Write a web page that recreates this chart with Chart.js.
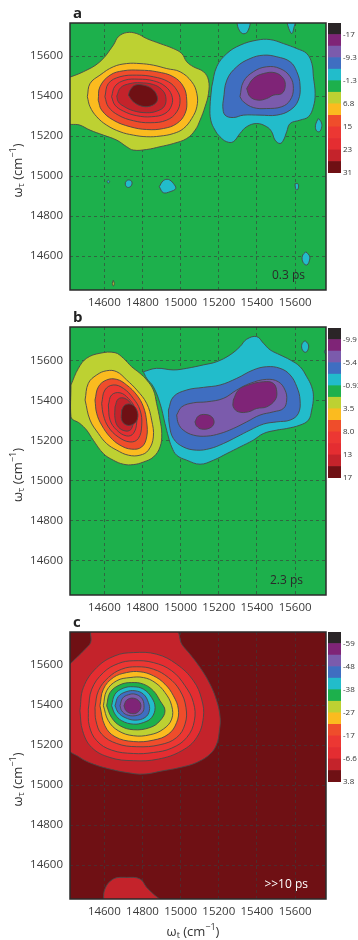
<!DOCTYPE html>
<html><head><meta charset="utf-8">
<script src="https://cdn.jsdelivr.net/npm/chart.js@4.4.1/dist/chart.umd.min.js"></script>
<style>
html,body{margin:0;padding:0;background:#fff;width:358px;height:940px;overflow:hidden;position:relative;}
canvas{position:absolute;left:0;}
</style></head><body>
<canvas id="pa" width="358" height="310" style="top:0px"></canvas>
<canvas id="ca" width="38" height="200" style="left:320px;top:0px"></canvas>
<canvas id="pb" width="358" height="305" style="top:310px"></canvas>
<canvas id="cb" width="38" height="200" style="left:320px;top:310px"></canvas>
<canvas id="pc" width="358" height="325" style="top:615px"></canvas>
<canvas id="cc" width="38" height="200" style="left:320px;top:615px"></canvas>
<script>
// ---------- axes ----------
const xRange = [14420, 15762];
const yRange = [14430, 15766];
const xTicks = [14600, 14800, 15000, 15200, 15400, 15600];
const yTicks = [14600, 14800, 15000, 15200, 15400, 15600];

// ---------- colour bands (index 0 = bottom of colour bar) ----------
const bandColors = ['#6f1014','#c4232b','#e42d31','#ec3733','#ef4d2b','#fbbb1f','#bdd132','#1db04c','#22bccb','#3f6ec1','#7b5bac','#7f2477','#2a2527'];
const aBarLabels = ['31','23','15','6.8','-1.3','-9.3','-17'];
const bBarLabels = ['17','13','8.0','3.5','-0.93','-5.4','-9.9'];
const cBarLabels = ['3.8','-6.6','-17','-27','-38','-48','-59'];

// ---------- panel a (0.3 ps) contours [omega_t, omega_tau] ----------
const aLime = [[14400,15488],[14490,15522],[14577,15572],[14647,15655],[14673,15697],[14717,15718],[14770,15713],[14822,15688],[14892,15663],[14962,15638],[15006,15613],[15032,15572],[15067,15547],[15120,15522],[15146,15480],[15146,15413],[15128,15347],[15102,15280],[15076,15230],[15032,15188],[14962,15163],[14892,15147],[14822,15133],[14752,15130],[14717,15147],[14665,15180],[14595,15205],[14525,15230],[14472,15255],[14400,15272]];
const aOrange = [[14511,15397],[14525,15463],[14577,15505],[14647,15547],[14717,15563],[14787,15563],[14857,15555],[14927,15538],[14997,15522],[15058,15472],[15085,15413],[15085,15347],[15058,15288],[15015,15238],[14962,15213],[14892,15200],[14822,15197],[14752,15205],[14682,15222],[14612,15255],[14560,15297],[14525,15347]];
const aRedOr = [[14568,15380],[14577,15447],[14630,15505],[14700,15527],[14787,15530],[14875,15522],[14962,15497],[15015,15447],[15032,15380],[15023,15313],[14980,15263],[14910,15238],[14822,15233],[14735,15247],[14647,15280],[14586,15330]];
const aRed15 = [[14603,15397],[14621,15463],[14682,15497],[14770,15505],[14857,15497],[14936,15472],[14980,15430],[14997,15380],[14980,15322],[14927,15280],[14840,15267],[14752,15277],[14673,15305],[14621,15347]];
const aRed19 = [[14638,15397],[14656,15450],[14708,15480],[14778,15485],[14857,15477],[14918,15450],[14953,15405],[14953,15355],[14918,15313],[14848,15297],[14770,15302],[14700,15325],[14656,15355]];
const aCrim23 = [[14665,15400],[14686,15443],[14735,15463],[14787,15467],[14857,15458],[14901,15433],[14922,15397],[14915,15350],[14875,15325],[14822,15317],[14752,15327],[14700,15350],[14673,15372]];
const aDark27 = [[14726,15405],[14735,15430],[14761,15455],[14805,15455],[14848,15438],[14875,15405],[14875,15372],[14840,15350],[14796,15350],[14752,15372]];
const aCyan = [[15163,15447],[15189,15547],[15242,15613],[15312,15655],[15399,15680],[15469,15683],[15539,15663],[15609,15638],[15661,15613],[15688,15563],[15696,15497],[15705,15413],[15696,15347],[15670,15297],[15626,15280],[15574,15263],[15556,15222],[15539,15180],[15521,15163],[15495,15180],[15477,15222],[15451,15247],[15399,15263],[15346,15247],[15311,15213],[15276,15172],[15241,15172],[15206,15197],[15180,15230],[15158,15280],[15154,15347]];
const aBlue = [[15224,15380],[15242,15480],[15294,15547],[15364,15588],[15434,15605],[15504,15597],[15574,15572],[15609,15522],[15626,15455],[15617,15380],[15574,15330],[15504,15305],[15416,15305],[15329,15305],[15276,15293],[15233,15305],[15221,15347]];
const aViolet = [[15311,15397],[15329,15472],[15381,15522],[15451,15547],[15521,15538],[15574,15497],[15591,15438],[15574,15380],[15530,15347],[15451,15338],[15381,15343],[15329,15372]];
const aPurple = [[15346,15438],[15381,15488],[15434,15513],[15495,15517],[15539,15488],[15548,15447],[15530,15413],[15486,15405],[15451,15388],[15407,15380],[15364,15397]];
const aSpot1 = [[15294,15775],[15303,15738],[15325,15713],[15350,15722],[15360,15775]];
const aSpot2 = [[15556,15775],[15567,15738],[15583,15713],[15595,15747],[15599,15775]];
const aSpot3 = [[15722,15288],[15736,15272],[15740,15247],[15727,15222],[15710,15230],[15708,15260]];
const aSpot4 = [[14710,14967],[14722,14980],[14742,14975],[14743,14955],[14726,14943],[14712,14952]];
const aSpot5 = [[14888,14947],[14909,14977],[14936,14983],[14962,14963],[14974,14938],[14945,14922],[14909,14917]];
const aSpot6 = [[15600,14962],[15614,14962],[15618,14945],[15610,14930],[15602,14940]];
const aSpot7 = [[15656,14621],[15673,14605],[15677,14585],[15662,14555],[15642,14568],[15638,14600]];
const aSpot8 = [[14621,14980],[14628,14972],[14621,14965],[14614,14972]];
const aSpot9 = [[14647,14478],[14652,14463],[14647,14450],[14642,14463]];

// ---------- panel b (2.3 ps) ----------
const bLime = [[14425,15477],[14464,15560],[14507,15610],[14577,15635],[14656,15638],[14700,15610],[14743,15568],[14787,15535],[14822,15502],[14857,15452],[14874,15385],[14892,15302],[14901,15235],[14892,15168],[14857,15118],[14805,15093],[14752,15080],[14700,15082],[14647,15102],[14595,15135],[14542,15202],[14507,15252],[14472,15285],[14425,15318]];
const bOrange = [[14499,15402],[14516,15485],[14560,15527],[14612,15548],[14665,15543],[14717,15502],[14770,15452],[14822,15385],[14848,15302],[14857,15218],[14831,15152],[14787,15127],[14726,15127],[14665,15152],[14612,15185],[14569,15235],[14525,15302]];
const bRedOr = [[14551,15402],[14569,15468],[14612,15502],[14665,15505],[14717,15477],[14770,15427],[14805,15368],[14822,15293],[14822,15218],[14796,15168],[14743,15157],[14682,15177],[14630,15218],[14586,15277],[14560,15335]];
const bRed8 = [[14586,15385],[14603,15452],[14647,15477],[14700,15460],[14752,15410],[14787,15352],[14796,15277],[14778,15210],[14735,15193],[14673,15218],[14621,15268],[14595,15327]];
const bRed10 = [[14621,15377],[14638,15427],[14682,15438],[14726,15410],[14761,15360],[14770,15293],[14752,15235],[14717,15223],[14665,15252],[14630,15302]];
const bCrim12 = [[14656,15368],[14673,15407],[14708,15410],[14743,15377],[14752,15318],[14743,15260],[14714,15247],[14673,15268],[14656,15310]];
const bDark15 = [[14691,15352],[14708,15377],[14743,15380],[14770,15352],[14774,15310],[14752,15282],[14717,15277],[14691,15302]];
const bCyan = [[14805,15543],[14874,15560],[14962,15552],[15032,15560],[15119,15577],[15189,15593],[15259,15627],[15311,15668],[15346,15705],[15399,15718],[15434,15685],[15469,15652],[15521,15627],[15574,15602],[15626,15568],[15661,15518],[15687,15468],[15696,15418],[15687,15352],[15670,15302],[15626,15277],[15556,15260],[15504,15252],[15434,15235],[15381,15202],[15311,15168],[15242,15135],[15172,15102],[15102,15082],[15032,15102],[14979,15127],[14953,15168],[14936,15218],[14918,15285],[14892,15385],[14857,15468],[14822,15510]];
const bBlue = [[14936,15352],[14962,15418],[15032,15452],[15119,15465],[15207,15477],[15294,15510],[15381,15552],[15451,15568],[15521,15560],[15574,15527],[15609,15468],[15626,15402],[15617,15335],[15574,15302],[15504,15293],[15434,15282],[15364,15252],[15294,15218],[15224,15185],[15154,15160],[15084,15152],[15014,15168],[14962,15210],[14941,15277]];
const bViolet = [[14979,15327],[15006,15368],[15067,15388],[15137,15393],[15224,15410],[15294,15452],[15364,15485],[15451,15505],[15512,15493],[15547,15452],[15556,15402],[15539,15360],[15486,15343],[15416,15327],[15346,15293],[15276,15260],[15207,15235],[15137,15222],[15067,15227],[15014,15252],[14988,15285]];
const bPurpL = [[15075,15293],[15093,15322],[15128,15330],[15163,15318],[15175,15288],[15154,15263],[15110,15257],[15084,15272]];
const bPurpR = [[15276,15402],[15303,15452],[15355,15477],[15434,15493],[15486,15485],[15504,15443],[15495,15402],[15451,15368],[15399,15360],[15355,15343],[15303,15343],[15276,15368]];
const bSpot1 = [[15652,15698],[15668,15682],[15670,15660],[15656,15640],[15638,15652],[15636,15682]];
const bSpot2 = [[15772,15655],[15756,15650],[15756,15635],[15772,15630]];

// ---------- panel c (>>10 ps) ----------
const cOuter = [[14400,15588],[14455,15638],[14499,15680],[14528,15713],[14539,15775],[14971,15775],[15006,15705],[15049,15655],[15102,15588],[15154,15505],[15189,15422],[15207,15338],[15203,15272],[15189,15205],[15154,15155],[15084,15113],[14997,15088],[14909,15072],[14805,15055],[14717,15063],[14630,15080],[14542,15105],[14472,15138],[14400,15197]];
const cR6 = [[14472,15372],[14490,15488],[14560,15588],[14656,15647],[14752,15663],[14874,15655],[14979,15605],[15067,15522],[15110,15430],[15119,15338],[15084,15238],[15006,15172],[14883,15130],[14752,15122],[14630,15138],[14534,15188],[14486,15272]];
const cR11 = [[14516,15380],[14534,15480],[14595,15563],[14673,15608],[14752,15622],[14857,15613],[14953,15572],[15023,15497],[15067,15413],[15072,15322],[15032,15238],[14953,15185],[14857,15163],[14752,15158],[14638,15175],[14560,15222],[14521,15297]];
const cR17 = [[14551,15388],[14569,15472],[14621,15538],[14691,15580],[14770,15592],[14857,15580],[14936,15538],[14997,15472],[15028,15388],[15023,15305],[14979,15238],[14892,15202],[14770,15192],[14665,15208],[14586,15255],[14556,15322]];
const cOr22 = [[14577,15397],[14595,15480],[14647,15538],[14717,15563],[14787,15567],[14857,15547],[14918,15505],[14962,15447],[14988,15380],[14979,15313],[14936,15255],[14857,15225],[14752,15218],[14656,15242],[14603,15297]];
const cLime27 = [[14595,15397],[14612,15472],[14665,15522],[14735,15538],[14805,15538],[14866,15513],[14918,15463],[14953,15397],[14953,15330],[14909,15280],[14840,15252],[14752,15247],[14673,15272],[14621,15322]];
const cGreen32 = [[14612,15397],[14630,15463],[14682,15502],[14743,15513],[14805,15505],[14857,15472],[14892,15422],[14918,15372],[14892,15322],[14840,15288],[14752,15277],[14682,15297],[14638,15338]];
const cCyan38 = [[14638,15397],[14656,15455],[14700,15485],[14752,15492],[14805,15480],[14848,15438],[14866,15388],[14848,15338],[14805,15313],[14752,15305],[14691,15322],[14656,15355]];
const cBlue43 = [[14656,15397],[14673,15443],[14714,15467],[14761,15472],[14805,15455],[14831,15413],[14836,15372],[14813,15338],[14761,15325],[14708,15338],[14673,15363]];
const cViol48 = [[14682,15397],[14696,15435],[14726,15452],[14761,15455],[14796,15435],[14808,15397],[14799,15363],[14761,15347],[14717,15352],[14691,15372]];
const cPurp53 = [[14703,15397],[14717,15425],[14752,15435],[14784,15418],[14791,15388],[14773,15363],[14743,15358],[14714,15372]];
const cBottom = [[14595,14413],[14603,14480],[14647,14530],[14717,14538],[14787,14530],[14822,14488],[14857,14455],[14901,14413]];

// contour -> colour band index
const aContours = [[aLime,6],[aOrange,5],[aRedOr,4],[aRed15,3],[aRed19,2],[aCrim23,1],[aDark27,0],
  [aCyan,8],[aBlue,9],[aViolet,10],[aPurple,11],
  [aSpot1,8],[aSpot2,8],[aSpot3,8],[aSpot4,8],[aSpot5,8],[aSpot6,8],[aSpot7,8],[aSpot8,8],[aSpot9,6]];
const bContours = [[bLime,6],[bOrange,5],[bRedOr,4],[bRed8,3],[bRed10,2],[bCrim12,1],[bDark15,0],
  [bCyan,8],[bBlue,9],[bViolet,10],[bPurpL,11],[bPurpR,11],[bSpot1,8],[bSpot2,8]];
const cContours = [[cOuter,1],[cR6,2],[cR11,3],[cR17,4],[cOr22,5],[cLime27,6],[cGreen32,7],
  [cCyan38,8],[cBlue43,9],[cViol48,10],[cPurp53,11],[cBottom,1]];

Chart.defaults.font.family = '"Open Sans", sans-serif';

function drawSubTitle(ctx, cx, cy, ang, sub) {
  const big = '13px "Open Sans"', small = '9px "Open Sans"';
  const parts = [['ω', big, 0], [sub, small, 3.5], [' (cm', big, 0], ['−1', small, -5], [')', big, 0]];
  let w = 0;
  parts.forEach(p => { ctx.font = p[1]; w += ctx.measureText(p[0]).width; });
  ctx.save();
  ctx.translate(cx, cy); ctx.rotate(ang);
  ctx.textBaseline = 'middle'; ctx.textAlign = 'left'; ctx.fillStyle = '#333';
  let x = -w / 2;
  parts.forEach(p => { ctx.font = p[1]; ctx.fillText(p[0], x, p[2]); x += ctx.measureText(p[0]).width; });
  ctx.restore();
}

const panelDeco = {
  id: 'panelDeco',
  beforeDraw(chart, args, o) {
    const {ctx, chartArea: a} = chart;
    ctx.save(); ctx.fillStyle = o.bg;
    ctx.fillRect(a.left, a.top, a.right - a.left, a.bottom - a.top);
    ctx.restore();
  },
  afterDraw(chart, args, o) {
    const {ctx, chartArea: a} = chart;
    ctx.save();
    ctx.strokeStyle = '#2b2b2b'; ctx.lineWidth = 1.5;
    ctx.strokeRect(a.left, a.top, a.right - a.left, a.bottom - a.top);
    ctx.fillStyle = '#222'; ctx.font = 'bold 15px "Open Sans"';
    ctx.textAlign = 'left'; ctx.textBaseline = 'alphabetic';
    ctx.fillText(o.letter, a.left + 3, a.top - 5);
    ctx.font = '12px "Open Sans"'; ctx.fillStyle = o.timeColor; ctx.textAlign = 'right';
    ctx.fillText(o.time, a.right - o.timeDx, a.bottom - 11);
    drawSubTitle(ctx, 18, (a.top + a.bottom) / 2 + 14, -Math.PI / 2, 'τ');
    if (o.xTitle) drawSubTitle(ctx, (a.left + a.right) / 2 - 5, a.bottom + 33, 0, 't');
    ctx.restore();
  }
};

function axis(range, ticks, fit) {
  return {
    type: 'linear', min: range[0], max: range[1], z: 1,
    afterBuildTicks: s => { s.ticks = ticks.map(v => ({value: v})); },
    afterFit: fit,
    grid: {color: 'rgba(60,60,60,0.8)', lineWidth: 0.8, drawTicks: false},
    border: {display: false, dash: [3, 3]},
    ticks: {font: {size: 11.5}, color: '#3a3a3a', autoSkip: false, maxRotation: 0,
      callback: v => String(v)}
  };
}

function panel(id, contours, bg, letter, time, timeColor, timeDx, xTitle, padTop, xAxisH) {
  const datasets = contours.map((c, i) => ({
    data: c[0].concat([c[0][0]]),
    showLine: true, fill: 'shape',
    backgroundColor: bandColors[c[1]], borderColor: '#484848', borderWidth: 0.9,
    pointRadius: 0, tension: 0.4, order: -i
  }));
  const xs = axis(xRange, xTicks, s => { s.height = xAxisH; });
  xs.ticks.padding = 6;
  const ys = axis(yRange, yTicks, s => { s.width = 70; });
  ys.ticks.padding = 7;
  new Chart(document.getElementById(id), {
    type: 'scatter',
    data: {datasets},
    options: {
      responsive: false, animation: false, events: [],
      layout: {padding: {top: padTop, right: 32, left: 0, bottom: 0}},
      plugins: {legend: {display: false}, tooltip: {enabled: false},
        panelDeco: {bg, letter, time, timeColor, timeDx, xTitle}},
      scales: {x: xs, y: ys}
    },
    plugins: [panelDeco]
  });
}

function colorbar(id, labels, padTop, padBottom) {
  const datasets = bandColors.map(c => ({data: [1], backgroundColor: c, borderWidth: 0,
    barPercentage: 1, categoryPercentage: 1}));
  new Chart(document.getElementById(id), {
    type: 'bar',
    data: {labels: [''], datasets},
    options: {
      responsive: false, animation: false, events: [],
      layout: {padding: {left: 8, top: padTop, bottom: padBottom, right: 0}},
      plugins: {legend: {display: false}, tooltip: {enabled: false}},
      scales: {
        x: {display: false, stacked: true},
        y: {stacked: true, position: 'right', min: 0, max: 13,
          afterBuildTicks: s => { s.ticks = labels.map((t, i) => ({value: i * 2})); },
          afterFit: s => { s.width = 17; },
          grid: {display: false, drawTicks: false}, border: {display: false},
          ticks: {callback: (v, i) => labels[i], font: {size: 8}, color: '#333', padding: 2, autoSkip: false}
        }
      }
    }
  });
}

panel('pa', aContours, bandColors[7], 'a', '0.3 ps', '#2a2a2a', 21, false, 23, 20);
panel('pb', bContours, bandColors[7], 'b', '2.3 ps', '#2a2a2a', 23, false, 17, 20);
panel('pc', cContours, bandColors[0], 'c', '>>10 ps', '#ffffff', 18, true, 17, 41);
colorbar('ca', aBarLabels, 23, 27);
colorbar('cb', bBarLabels, 18, 32);
colorbar('cc', cBarLabels, 17, 33);
</script>
</body></html>
